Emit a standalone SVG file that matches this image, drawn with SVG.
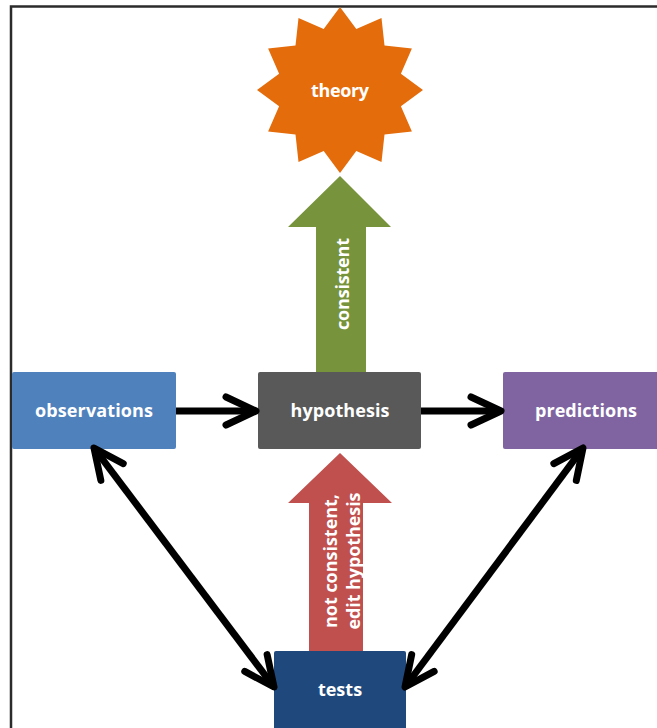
<svg xmlns="http://www.w3.org/2000/svg" width="657" height="728" viewBox="0 0 657 728">
<style>
.lbl{font-family:"Open Sans","Liberation Sans",sans-serif;font-weight:bold;font-size:18px;fill:#ffffff;text-anchor:middle}
.con{fill:none;stroke:#000000;stroke-width:7;stroke-linecap:butt}
</style>
<defs>
<marker id="chev" markerUnits="userSpaceOnUse" orient="auto-start-reverse" markerWidth="60" markerHeight="60" refX="0" refY="0" viewBox="-40 -30 60 60" overflow="visible">
<path d="M-30,-14 L0,0 L-30,14" fill="none" stroke="#000000" stroke-width="7" stroke-linecap="round" stroke-linejoin="round"/>
</marker>
</defs>
<rect width="657" height="728" fill="#ffffff"/>
<path d="M11,728 V6.5 H657" fill="none" stroke="#2b2b2b" stroke-width="2.5"/>
<g id="theory">
<polygon points="340,7 356.3,29.1 381.5,18.1 384.5,45.5 411.9,48.5 400.9,73.7 423,90 400.9,106.3 411.9,131.5 384.5,134.5 381.5,161.9 356.3,150.9 340,173 323.7,150.9 298.5,161.9 295.5,134.5 268.1,131.5 279.1,106.3 257,90 279.1,73.7 268.1,48.5 295.5,45.5 298.5,18.1 323.7,29.1" fill="#E46C0A"/>
<text class="lbl" x="340" y="97" textLength="58">theory</text>
</g>
<g id="consistent-arrow">
<polygon points="316,372 316,227 288,227 340,176 391,227 366,227 366,372" fill="#77933C"/>
<text class="lbl" transform="translate(349,284) rotate(-90)" textLength="92">consistent</text>
</g>
<g id="not-consistent-arrow">
<polygon points="309,651 309,503 288,503 340,453 392,503 363,503 363,651" fill="#C0504D"/>
<text class="lbl" transform="translate(337,561) rotate(-90)" textLength="134">not consistent,</text>
<text class="lbl" transform="translate(360,561) rotate(-90)" textLength="137">edit hypothesis</text>
</g>
<g id="observations">
<rect x="12" y="372" width="164" height="77" rx="2" fill="#4F81BD"/>
<text class="lbl" x="94" y="417" textLength="118">observations</text>
</g>
<g id="hypothesis">
<rect x="258" y="372" width="163" height="77" rx="2" fill="#595959"/>
<text class="lbl" x="340" y="417" textLength="99">hypothesis</text>
</g>
<g id="predictions">
<rect x="503" y="372" width="160" height="77" rx="2" fill="#8064A2"/>
<text class="lbl" x="586" y="417" textLength="102">predictions</text>
</g>
<g id="tests">
<rect x="274" y="651" width="132" height="82" rx="2" fill="#1F497D"/>
<text class="lbl" x="340" y="696">tests</text>
</g>
<g id="connectors">
<line class="con" x1="176" y1="411" x2="256" y2="411" marker-end="url(#chev)"/>
<line class="con" x1="421" y1="411" x2="501" y2="411" marker-end="url(#chev)"/>
<line class="con" x1="94" y1="448" x2="274" y2="687" marker-start="url(#chev)" marker-end="url(#chev)"/>
<line class="con" x1="583" y1="448" x2="405" y2="687" marker-start="url(#chev)" marker-end="url(#chev)"/>
</g>
</svg>
